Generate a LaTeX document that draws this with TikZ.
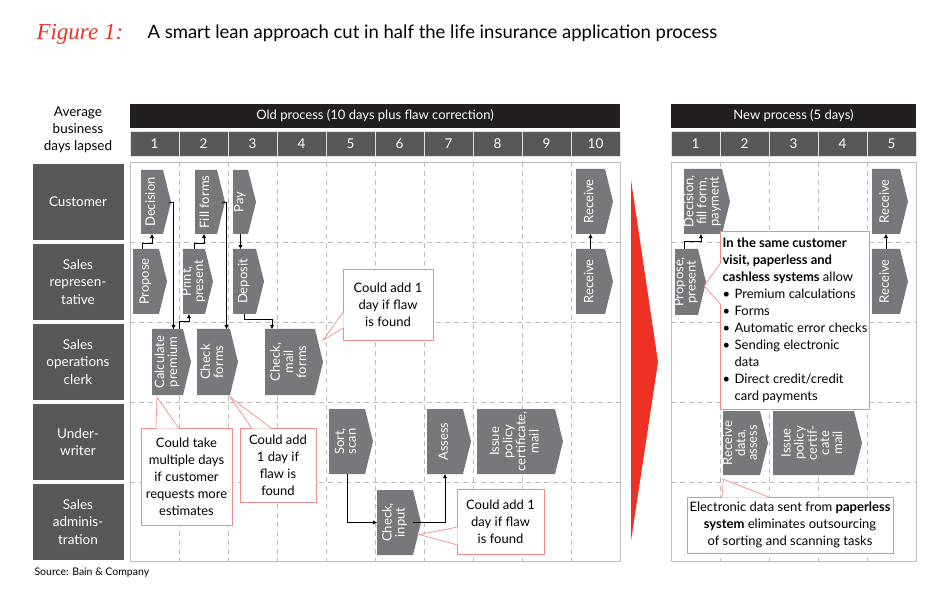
\documentclass[tikz,border=0pt]{standalone}
\usepackage{fontspec}
\setmainfont{Lato}
\newfontfamily\figfont{Liberation Serif}
\usepackage{tikz}
\usetikzlibrary{arrows.meta,calc,positioning}

\definecolor{hdrblack}{HTML}{231F20}
\definecolor{cellgray}{HTML}{58585A}
\definecolor{procgray}{HTML}{77787B}
\definecolor{bainred}{HTML}{EE3124}
\definecolor{notered}{HTML}{F28B8B}
\definecolor{gridgray}{HTML}{BDBDBD}

% process step: name, left, top, width, height, label
\newcommand{\procbox}[6]{%
  \fill[procgray] (#2,#3) -- ++(#4,0) -- ++(8,#5/2) -- ++(-8,#5/2) -- ++(-#4,0) -- cycle;
  \node[proctext, minimum width=#4pt, minimum height=#5pt] (#1) at ({#2+#4/2},{#3+#5/2})
    {\rotatebox{90}{\begin{tabular}{@{}c@{}}#6\end{tabular}}};
}
% callout pointer: base, tip, base
\newcommand{\notetip}[3]{%
  \fill[white] #1 -- #2 -- #3 -- cycle;
  \draw[noteline] #1 -- #2 -- #3;
}
\newcommand{\notebul}{\makebox[12pt][l]{\textbullet}}
\newcommand{\bulindent}{\hspace*{12pt}}

\begin{document}
\begin{tikzpicture}[x=1pt, y=-1pt,
  lane/.style={fill=cellgray, text=white, align=center, minimum width=91pt,
    minimum height=76pt, inner sep=0pt, font=\fontsize{13.5}{17.5}\selectfont},
  hdrbar/.style={fill=hdrblack, text=white, minimum height=24pt, inner sep=0pt,
    font=\fontsize{13}{15}\selectfont},
  daycell/.style={fill=cellgray, draw=white!75!gray, line width=0.8pt, text=white,
    minimum width=49pt, minimum height=25pt, inner sep=0pt, font=\fontsize{13.5}{15}\selectfont},
  proctext/.style={text=white, inner sep=0pt, font=\fontsize{13}{11.8}\selectfont},
  note/.style={draw=notered, fill=white, line width=0.7pt, align=center, inner sep=2pt,
    outer sep=0pt, font=\fontsize{13}{17}\selectfont},
  noteline/.style={draw=notered, line width=0.7pt},
  flow/.style={-{Triangle[length=4pt,width=4pt]}, line width=0.6pt},
  gridsolid/.style={draw=gridgray, line width=0.8pt},
  griddash/.style={draw=gridgray, line width=0.8pt, dash pattern=on 5pt off 4pt}]

  \useasboundingbox (0,0) rectangle (950,601);

  % Layout positions
  \def\oldx{130}  % old process, left edge
  \def\newx{671}  % new process, left edge
  \def\colw{49}   % one business day
  \def\gtop{162}  % grid top
  \def\gbot{561}  % grid bottom
  \def\rowh{80}   % one swim lane

  % Title
  \node[anchor=base west, text=bainred, font=\figfont\itshape\fontsize{23}{24}\selectfont]
    (figlbl) at (33,40) {Figure 1:};
  \node[anchor=base west, font=\fontsize{18.5}{20}\selectfont] (title) at (144,39)
    {A smart lean approach cut in half the life insurance application process};

  % Headers
  \node[align=center, font=\fontsize{13.5}{17}\selectfont] (avglbl) at (78,130)
    {Average\\business\\days lapsed};
  \node[hdrbar, minimum width=490pt] (oldhdr) at ({\oldx+245},116)
    {Old process (10 days plus flaw correction)};
  \node[hdrbar, minimum width=245pt] (newhdr) at ({\newx+122.5},116)
    {New process (5 days)};
  \foreach \d in {1,...,10}
    \node[daycell] (oldday\d) at ({\oldx+\colw*(\d-0.5)},143.5) {\d};
  \foreach \d in {1,...,5}
    \node[daycell] (newday\d) at ({\newx+\colw*(\d-0.5)},143.5) {\d};

  % Swim lanes
  \foreach \nm/\txt [count=\i from 0] in {cust/Customer, rep/{Sales\\represen-\\tative},
      ops/{Sales\\operations\\clerk}, uw/{Under-\\writer}, adm/{Sales\\adminis-\\tration}}
    \node[lane] (lane-\nm) at (78,{202+\rowh*\i}) {\txt};

  % Grids
  \draw[gridsolid] (\oldx,\gtop) rectangle ({\oldx+10*\colw},\gbot);
  \foreach \c in {1,...,9}
    \draw[griddash] ({\oldx+\colw*\c},\gtop) -- ({\oldx+\colw*\c},\gbot);
  \foreach \r in {1,...,4}
    \draw[griddash] (\oldx,{\gtop+\rowh*\r}) -- ({\oldx+10*\colw},{\gtop+\rowh*\r});
  \draw[gridsolid] (\newx,\gtop) rectangle ({\newx+5*\colw},\gbot);
  \foreach \c in {1,...,4}
    \draw[griddash] ({\newx+\colw*\c},\gtop) -- ({\newx+\colw*\c},\gbot);
  \foreach \r in {1,...,4}
    \draw[griddash] (\newx,{\gtop+\rowh*\r}) -- ({\newx+5*\colw},{\gtop+\rowh*\r});

  % Big red arrow
  \fill[bainred] (631,180) -- (658,362) -- (631,541) -- cycle;

  % Old process steps
  \procbox{dec}{141}{170}{22}{64}{Decision}
  \procbox{fill}{195}{170}{22}{64}{Fill forms}
  \procbox{pay}{233}{170}{15}{64}{Pay}
  \procbox{rcvA}{576}{169}{29}{65}{Receive}
  \procbox{prop}{133}{249}{26}{65}{Propose}
  \procbox{print}{183}{249}{22}{65}{Print,\\present}
  \procbox{depo}{233}{249}{23}{65}{Deposit}
  \procbox{rcvB}{576}{249}{29}{65}{Receive}
  \procbox{calc}{152}{329}{31}{66}{Calculate\\premium}
  \procbox{chkf}{197}{329}{33}{66}{Check\\forms}
  \procbox{chkm}{265}{329}{50}{66}{Check,\\mail\\forms}
  \procbox{sort}{329}{409}{36}{65}{Sort,\\scan}
  \procbox{assess}{427}{409}{36}{65}{Assess}
  \procbox{issue}{477}{409}{78}{65}{Issue\\policy\\certificate,\\mail}
  \procbox{chki}{377}{490}{36}{65}{Check,\\input}

  % New process steps
  \procbox{ndec}{684}{169}{38}{65}{Decision,\\fill form,\\payment}
  \procbox{nrcvA}{872}{169}{28}{65}{Receive}
  \procbox{nprop}{675}{249}{23}{66}{Propose,\\present}
  \procbox{nrcvB}{872}{249}{28}{65}{Receive}
  \procbox{nrecv}{723}{411}{37}{64}{Receive\\data,\\assess}
  \procbox{nissue}{773}{411}{81}{64}{Issue\\policy\\certif-\\cate\\mail}

  % Hand-offs
  \draw[flow] ($(prop.north)+(-4,0)$) -- ++(0,-5) -| (dec.south);
  \draw[flow] ($(dec.east)+(6,0)$) -| ($(calc.north)+(6,0)$);
  \draw[flow] ($(calc.north)+(12,0)$) -- ++(0,-7) -| ($(print.south)+(-5,0)$);
  \draw[flow] (print.north) -- ++(0,-5) -| ($(fill.south)+(-2,0)$);
  \draw[flow] ($(fill.east)+(5,0)$) -| ($(chkf.north)+(13,0)$);
  \draw[flow] (pay.south) -- (pay.south |- depo.north);
  \draw[flow] (depo.south) -- ++(0,5) -| ($(chkm.north)+(-18,0)$);
  \draw[flow] (sort.south) |- (chki.west);
  \draw[flow] (chki.east) -| (assess.south);
  \draw[flow] (rcvB.north) -- (rcvA.south);
  \draw[flow] ($(nprop.north)+(-2.5,0)$) -- ++(0,-7) -| ($(ndec.south)+(-2,0)$);
  \draw[flow] (nrcvB.north) -- (nrcvA.south);

  % Callouts
  \node[note, minimum width=90pt, minimum height=71pt] (noteA) at (388,304.5)
    {Could add 1\\day if flaw\\is found};
  \notetip{($(noteA.west)+(0.6,7)$)}{($(chkm.east)+(8,-22)$)}{($(noteA.west)+(0.6,23.5)$)}
  \node[note, minimum width=91pt, minimum height=97pt] (noteB) at (186.5,476.5)
    {Could take\\multiple days\\if customer\\requests more\\estimates};
  \notetip{($(noteB.north)+(-30.5,0.6)$)}{($(calc.south)+(-10.5,2)$)}{($(noteB.north)+(-7.5,0.6)$)}
  \node[note, minimum width=76pt, minimum height=74pt] (noteC) at (278,465)
    {Could add\\1 day if\\flaw is\\found};
  \notetip{($(noteC.north)+(-26,0.6)$)}{($(chkf.south east)+(0,2)$)}{($(noteC.north)+(-6,0.6)$)}
  \node[note, minimum width=87pt, minimum height=65pt] (noteD) at (500.5,521.5)
    {Could add 1\\day if flaw\\is found};
  \notetip{($(noteD.west)+(0.6,5.5)$)}{($(chki.east)+(6,12)$)}{($(noteD.west)+(0.6,23.5)$)}
  \node[note, align=left, minimum width=146pt, minimum height=178pt] (noteE) at (795,320)
    {\textbf{In the same customer}\\\textbf{visit, paperless and}\\\textbf{cashless systems} allow\\
     \notebul Premium calculations\\\notebul Forms\\\notebul Automatic error checks\\
     \notebul Sending electronic\\\bulindent data\\\notebul Direct credit/credit\\
     \bulindent card payments};
  \notetip{($(noteE.west)+(0.6,-58)$)}{($(nprop.east)+(5,4)$)}{($(noteE.west)+(0.6,-15)$)}
  \node[note, minimum width=206pt, minimum height=56pt] (noteF) at (790,525)
    {Electronic data sent from \textbf{paperless}\\\textbf{system} eliminates outsourcing\\
     of sorting and scanning tasks};
  \notetip{($(noteF.north)+(-68,0.6)$)}{($(nrecv.south west)+(1,4)$)}{($(noteF.north)+(-20,0.6)$)}

  % Source
  \node[anchor=west, font=\fontsize{10.5}{12}\selectfont] (source) at (31,573)
    {Source: Bain \& Company};
\end{tikzpicture}
\end{document}
